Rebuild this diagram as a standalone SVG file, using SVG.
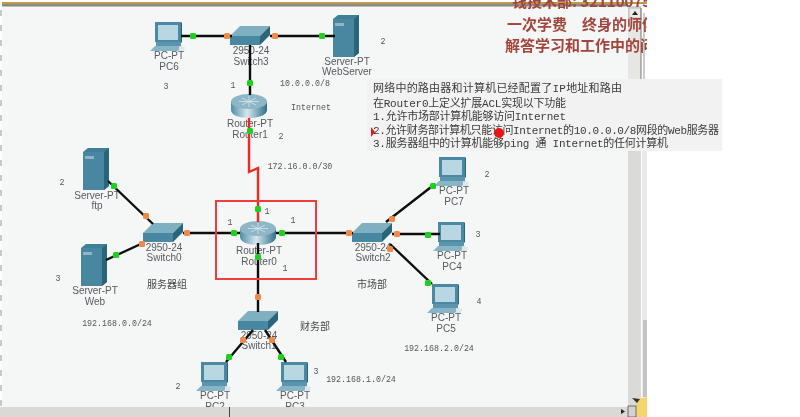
<svg xmlns="http://www.w3.org/2000/svg" width="800" height="417" viewBox="0 0 800 417">
<style>
.lb{font:10px "Liberation Sans",Arial,sans-serif;fill:#565b5f;text-anchor:middle}
.n{font:8.3px "Liberation Mono",monospace;fill:#555;text-anchor:middle}
.cn{font:10px "Noto Sans CJK SC",sans-serif;fill:#484848;text-anchor:middle}
.t{font:11px "Liberation Mono","Noto Sans CJK SC",monospace;fill:#3a3a3a}
.red{font:bold 15px "Noto Sans CJK SC",sans-serif;fill:#a2443c}
.k{stroke:#111;stroke-width:2.4;fill:none}
.g rect,.o rect{rx:1.5px}
.g{fill:#1bd21b}
.o{fill:#f0894a}
</style>
<defs>
<filter id="soft" x="0" y="0" width="1" height="1"><feGaussianBlur stdDeviation="0.4"/></filter>
<linearGradient id="rt" x1="0" x2="1" y1="0" y2="0"><stop offset="0" stop-color="#4f8ea6"/><stop offset=".45" stop-color="#d5e6ec"/><stop offset="1" stop-color="#2f7188"/></linearGradient>
<clipPath id="rc"><rect x="0" y="0" width="647" height="417"/></clipPath>
<clipPath id="bt"><rect x="0" y="0" width="640" height="407"/></clipPath>
<g id="pc">
<path d="M5 0H31V20H5Z" fill="#4b89a3"/>
<path d="M8 3H28V18H8Z" fill="#b9d6e3"/>
<path d="M31 0L32 1V21L31 20Z" fill="#2c6479"/>
<path d="M6 20H31V24H6Z" fill="#5a95ad"/>
<path d="M5 24H32L28 29H0Z" fill="#86b5c8"/>
<path d="M29 24l6 1-1 4-5 0Z" fill="#dfe7ea"/>
</g>
<g id="srv">
<path d="M0 4L5 0H26V38L21 42H0Z" fill="#3f7f9a"/>
<path d="M0 4H21V42H0Z" fill="#4a87a1"/>
<path d="M21 4L26 0V38L21 42Z" fill="#2b6579"/>
<path d="M2 8H11V11H2Z" fill="#8db7c8"/>
</g>
<g id="sw">
<path d="M0 10L10 0H40L30 10Z" fill="#7fb0c2"/>
<path d="M0 10H30V19H0Z" fill="#4a88a2"/>
<path d="M30 10L40 0V9L30 19Z" fill="#2b6579"/>
</g>
<g id="rtr">
<path d="M0 7V16C0 21 8 24 18 24S36 21 36 16V7Z" fill="url(#rt)"/>
<ellipse cx="18" cy="7.500" rx="18" ry="7.500" fill="#8db6c7"/>
<path d="M8 7.500H28M18 2V13M11 4L25 11M25 4L11 11" stroke="#d7e6ec" stroke-width=".8"/>
</g>
</defs>

<rect width="800" height="417" fill="#fff"/>
<g filter="url(#soft)">
<rect x="2" y="6" width="626" height="401" fill="#f5f6f6"/>
<path d="M1 10V407" stroke="#c9c9c9" stroke-width="2" stroke-dasharray="6 9"/>
<rect x="2" y="2" width="645" height="2" fill="#c09a48"/>
<rect x="2" y="4" width="626" height="2.500" fill="#8a8a86"/>
<rect x="628" y="6" width="13" height="401" fill="#dadbd8"/>
<rect x="628" y="18" width="13" height="62" fill="#e6e6e3"/>
<rect x="629" y="8" width="12" height="10" fill="#ebebe9" stroke="#999" stroke-width=".6"/>
<path d="M641 8V80" stroke="#777" stroke-width="1"/>
<path d="M644 13V80" stroke="#999" stroke-width="1"/>
<rect x="642" y="80" width="5" height="317" fill="#e9eaea"/>
<rect x="643" y="320" width="4" height="77" fill="#c3c3c3"/>
<rect x="0" y="407" width="628" height="10" fill="#dad9d5"/>
<rect x="229" y="407" width="1" height="10" fill="#444"/>
<path d="M632 15l3-4 3 4Z M621 409l4 2.500-4 2.500Z" fill="#222"/>
<path d="M636 417V399L647 397V417Z" fill="#f2d56c"/>
<path d="M632 398l8 1-3 4Z" fill="#333"/>
<rect x="628" y="406" width="8" height="11" fill="#d2d2d0" stroke="#555" stroke-width=".8"/>
<g clip-path="url(#rc)">
<text class="red" x="512" y="7">钱技术部: 32110075</text>
<text class="red" x="507" y="30">一次学费　终身的师傅</text>
<text class="red" x="505" y="51">解答学习和工作中的问题</text>
</g>

<g clip-path="url(#bt)">
<g id="PC6"><use href="#pc" x="150" y="22"/><text class="lb" x="169" y="59">PC-PT</text><text class="lb" x="169" y="70">PC6</text></g>
<g id="Switch3"><use href="#sw" x="230" y="26"/><text class="lb" x="251" y="54">2950-24</text><text class="lb" x="251" y="65">Switch3</text></g>
<g id="WebServer"><use href="#srv" x="333" y="15"/><text class="lb" x="347" y="65">Server-PT</text><text class="lb" x="347" y="75">WebServer</text></g>
<g id="Router1"><use href="#rtr" x="231" y="94"/><text class="lb" x="250" y="127">Router-PT</text><text class="lb" x="250" y="138">Router1</text></g>
<g id="Router0"><use href="#rtr" x="240" y="221"/><text class="lb" x="259" y="254">Router-PT</text><text class="lb" x="259" y="265">Router0</text></g>
<g id="ftp"><use href="#srv" x="83" y="148"/><text class="lb" x="97" y="199">Server-PT</text><text class="lb" x="97" y="209">ftp</text></g>
<g id="Web"><use href="#srv" x="81" y="244"/><text class="lb" x="95" y="294">Server-PT</text><text class="lb" x="95" y="305">Web</text></g>
<g id="Switch0"><use href="#sw" x="143" y="223"/><text class="lb" x="164" y="251">2950-24</text><text class="lb" x="164" y="261">Switch0</text></g>
<g id="Switch2"><use href="#sw" x="352" y="223"/><text class="lb" x="373" y="251">2950-24</text><text class="lb" x="373" y="261">Switch2</text></g>
<g id="Switch1"><use href="#sw" x="238" y="311"/><text class="lb" x="259" y="339">2950-24</text><text class="lb" x="259" y="349">Switch1</text></g>
<g id="PC7"><use href="#pc" x="434" y="157"/><text class="lb" x="454" y="194">PC-PT</text><text class="lb" x="454" y="205">PC7</text></g>
<g id="PC4"><use href="#pc" x="433" y="222"/><text class="lb" x="452" y="259">PC-PT</text><text class="lb" x="452" y="270">PC4</text></g>
<g id="PC5"><use href="#pc" x="427" y="284"/><text class="lb" x="446" y="321">PC-PT</text><text class="lb" x="446" y="332">PC5</text></g>
<g id="PC2"><use href="#pc" x="196" y="362"/><text class="lb" x="215" y="399">PC-PT</text><text class="lb" x="215" y="410">PC2</text></g>
<g id="PC3"><use href="#pc" x="276" y="362"/><text class="lb" x="295" y="399">PC-PT</text><text class="lb" x="295" y="410">PC3</text></g>
</g>

<g id="connectors">
<path class="k" d="M181 36H232M270 36H335M250 45V95"/>
<path d="M249 118V172L258 168V222" fill="none" stroke="#ee2a1e" stroke-width="2.400"/>
<path class="k" d="M183 233H240M276 233H353M258 243V312"/>
<path class="k" d="M108 181L153 224M106 260L143 243"/>
<path class="k" d="M386 222L435 184M392 234H440M390 244L432 284"/>
<path class="k" d="M253 330L226 362M265 330L286 362"/>
<g class="g">
<rect x="190" y="33" width="6" height="6"/><rect x="319" y="33" width="6" height="6"/><rect x="247" y="80" width="6" height="6"/><rect x="247" y="128" width="6" height="6"/>
<rect x="255" y="206" width="6" height="6"/><rect x="231" y="230" width="6" height="6"/><rect x="279" y="230" width="6" height="6"/><rect x="255" y="254" width="6" height="6"/>
<rect x="111" y="183" width="6" height="6"/><rect x="113" y="252" width="6" height="6"/>
<rect x="430" y="183" width="6" height="6"/><rect x="425" y="232" width="6" height="6"/><rect x="425" y="280" width="6" height="6"/>
<rect x="226" y="354" width="6" height="6"/><rect x="278" y="354" width="6" height="6"/>
</g>
<g class="o">
<rect x="224" y="33" width="6" height="6"/><rect x="272" y="33" width="6" height="6"/>
<rect x="143" y="213" width="6" height="6"/><rect x="139" y="241" width="6" height="6"/><rect x="184" y="230" width="6" height="6"/>
<rect x="346" y="230" width="6" height="6"/><rect x="389" y="216" width="6" height="6"/><rect x="394" y="231" width="6" height="6"/><rect x="387" y="246" width="6" height="6"/>
<rect x="255" y="294" width="6" height="6"/><rect x="240" y="337" width="6" height="6"/><rect x="269" y="337" width="6" height="6"/>
</g>
</g>

<rect id="highlight" x="216" y="201" width="100" height="78" fill="none" stroke="#f23a3a" stroke-width="2"/>

<g id="labels">
<text class="n" x="383" y="44">2</text><text class="n" x="166" y="89">3</text><text class="n" x="233" y="88">1</text>
<text class="n" x="305" y="86">10.0.0.0/8</text><text class="n" x="311" y="110">Internet</text><text class="n" x="281" y="139">2</text>
<text class="n" x="300" y="169">172.16.0.0/30</text><text class="n" x="62" y="185">2</text><text class="n" x="58" y="281">3</text>
<text class="n" x="230" y="225">1</text><text class="n" x="267" y="214">1</text><text class="n" x="293" y="223">1</text><text class="n" x="285" y="271">1</text>
<text class="cn" x="167" y="288">服务器组</text><text class="cn" x="315" y="330">财务部</text><text class="cn" x="372" y="288">市场部</text>
<text class="n" x="117" y="326">192.168.0.0/24</text><text class="n" x="439" y="351">192.168.2.0/24</text><text class="n" x="361" y="382">192.168.1.0/24</text>
<text class="n" x="178" y="389">2</text><text class="n" x="316" y="374">3</text><text class="n" x="487" y="177">2</text><text class="n" x="478" y="237">3</text><text class="n" x="479" y="304">4</text>
</g>

<rect x="367" y="79" width="355" height="72" fill="#f2f2f2"/>
<text class="t" x="373" y="92" textLength="249">网络中的路由器和计算机已经配置了IP地址和路由</text>
<text class="t" x="373" y="107" textLength="193">在Router0上定义扩展ACL实现以下功能</text>
<text class="t" x="373" y="120" textLength="193">1.允许市场部计算机能够访问Internet</text>
<text class="t" x="373" y="134" textLength="346">2.允许财务部计算机只能访问Internet的10.0.0.0/8网段的Web服务器</text>
<text class="t" x="373" y="147" textLength="295">3.服务器组中的计算机能够ping 通 Internet的任何计算机</text>
<path d="M371 127L375 132L371 137Z" fill="#f01818"/>
<circle cx="499" cy="133" r="5" fill="#e81818"/>
</g>
</svg>
